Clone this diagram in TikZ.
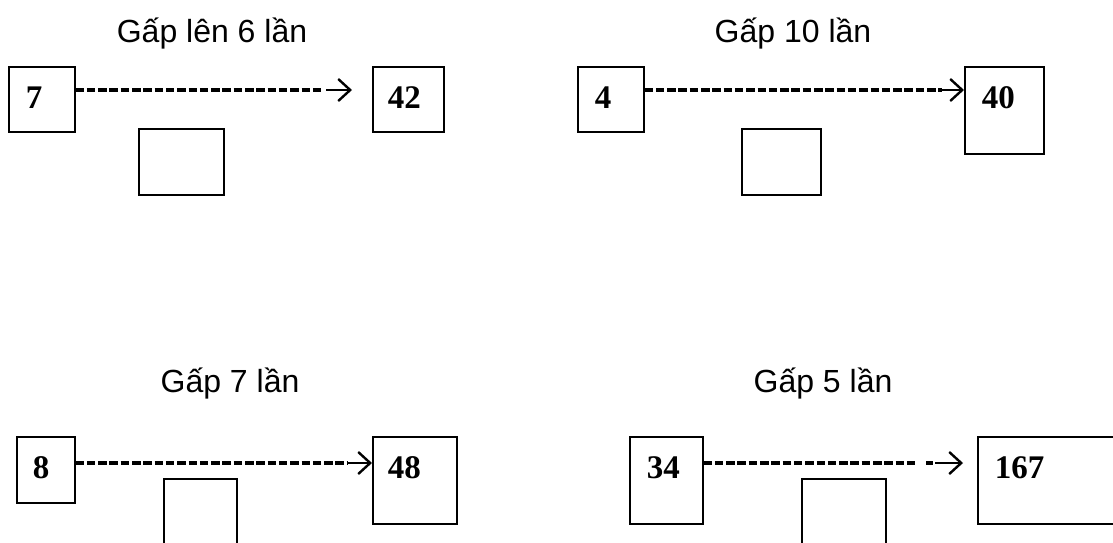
\documentclass[tikz,border=0pt]{standalone}
\usepackage{fontspec}
\setmainfont{Liberation Serif}
\newfontfamily\headfont{Liberation Sans}
\usepackage{tikz}
\usetikzlibrary{arrows.meta}

\begin{document}
\begin{tikzpicture}[
x = 1pt, y = -1pt, % one unit per pixel, y goes down
> = {Straight Barb[length=12pt,width=22pt]}, % open arrow head
line width = 1.5pt % box line style
]

\tikzstyle{box}=[
draw = black,
anchor = north west,
inner sep = 0pt
]
\tikzstyle{num}=[
font = \bfseries\fontsize{33}{33}\selectfont,
inner sep = 0pt,
anchor = base west
]
\tikzstyle{title}=[
font = \headfont\fontsize{32}{32}\selectfont,
inner sep = 0pt,
anchor = base
]
\tikzstyle{dashline}=[line width=3.8pt, dash pattern=on 8.5pt off 2.8pt]
\tikzstyle{head}=[->, line width=2.4pt]

\useasboundingbox (0,0) rectangle (1113,542);
\clip (0,0) rectangle (1113,542);

% top left
\node[title] (g1) at (212,42) {Gấp lên 6 lần};
\node[box, minimum width=66pt, minimum height=65pt] (b7) at (8,66) {};
\node[box, minimum width=71pt, minimum height=65pt] (b42) at (372,66) {};
\node[box, minimum width=85pt, minimum height=66pt] (m1) at (138,128) {};
\node[num] (t7) at ([shift={(17,42)}]b7.north west) {7};
\node[num] (t42) at ([shift={(15,42)}]b42.north west) {42};

% top right
\node[title] (g2) at (793,42) {Gấp 10 lần};
\node[box, minimum width=66pt, minimum height=65pt] (b4) at (577,66) {};
\node[box, minimum width=79pt, minimum height=87pt] (b40) at (964,66) {};
\node[box, minimum width=79pt, minimum height=66pt] (m2) at (741,128) {};
\node[num] (t4) at ([shift={(17,42)}]b4.north west) {4};
\node[num] (t40) at ([shift={(17,42)}]b40.north west) {40};

% bottom left
\node[title] (g3) at (230,392) {Gấp 7 lần};
\node[box, minimum width=58pt, minimum height=66pt] (b8) at (16,436) {};
\node[box, minimum width=84pt, minimum height=87pt] (b48) at (372,436) {};
\node[box, minimum width=73pt, minimum height=90pt] (m3) at (163,478) {};
\node[num] (t8) at ([shift={(16,42)}]b8.north west) {8};
\node[num] (t48) at ([shift={(15,42)}]b48.north west) {48};

% bottom right
\node[title] (g4) at (823,392) {Gấp 5 lần};
\node[box, minimum width=73pt, minimum height=87pt] (b34) at (629,436) {};
\node[box, minimum width=150pt, minimum height=87pt] (b167) at (977,436) {};
\node[box, minimum width=84pt, minimum height=90pt] (m4) at (801,478) {};
\node[num] (t34) at ([shift={(17,42)}]b34.north west) {34};
\node[num] (t167) at ([shift={(17,42)}]b167.north west) {167};

\coordinate (d1) at (323,90);
\coordinate (e1) at (352,90);
\coordinate (d2) at (942,90);
\coordinate (d3) at (348,463);
\coordinate (d4) at (915,463);
\coordinate (k4) at (926,463);
\coordinate (l4) at (933,463);
\coordinate (e4) at (963,463);

\draw[dashline] (b7.east |- d1) -- (d1);
\draw[head] ([xshift=3pt]d1) -- (e1);

\draw[dashline] (b4.east |- d2) -- (d2);
\draw[head] (d2) -- (b40.west |- d2);

\draw[dashline] (b8.east |- d3) -- (d3);
\draw[head] (d3) -- (b48.west |- d3);

\draw[dashline] (b34.east |- d4) -- (d4);
\draw[dashline] (k4) -- (l4);
\draw[head] ([xshift=2pt]l4) -- (e4);

\end{tikzpicture}
\end{document}
